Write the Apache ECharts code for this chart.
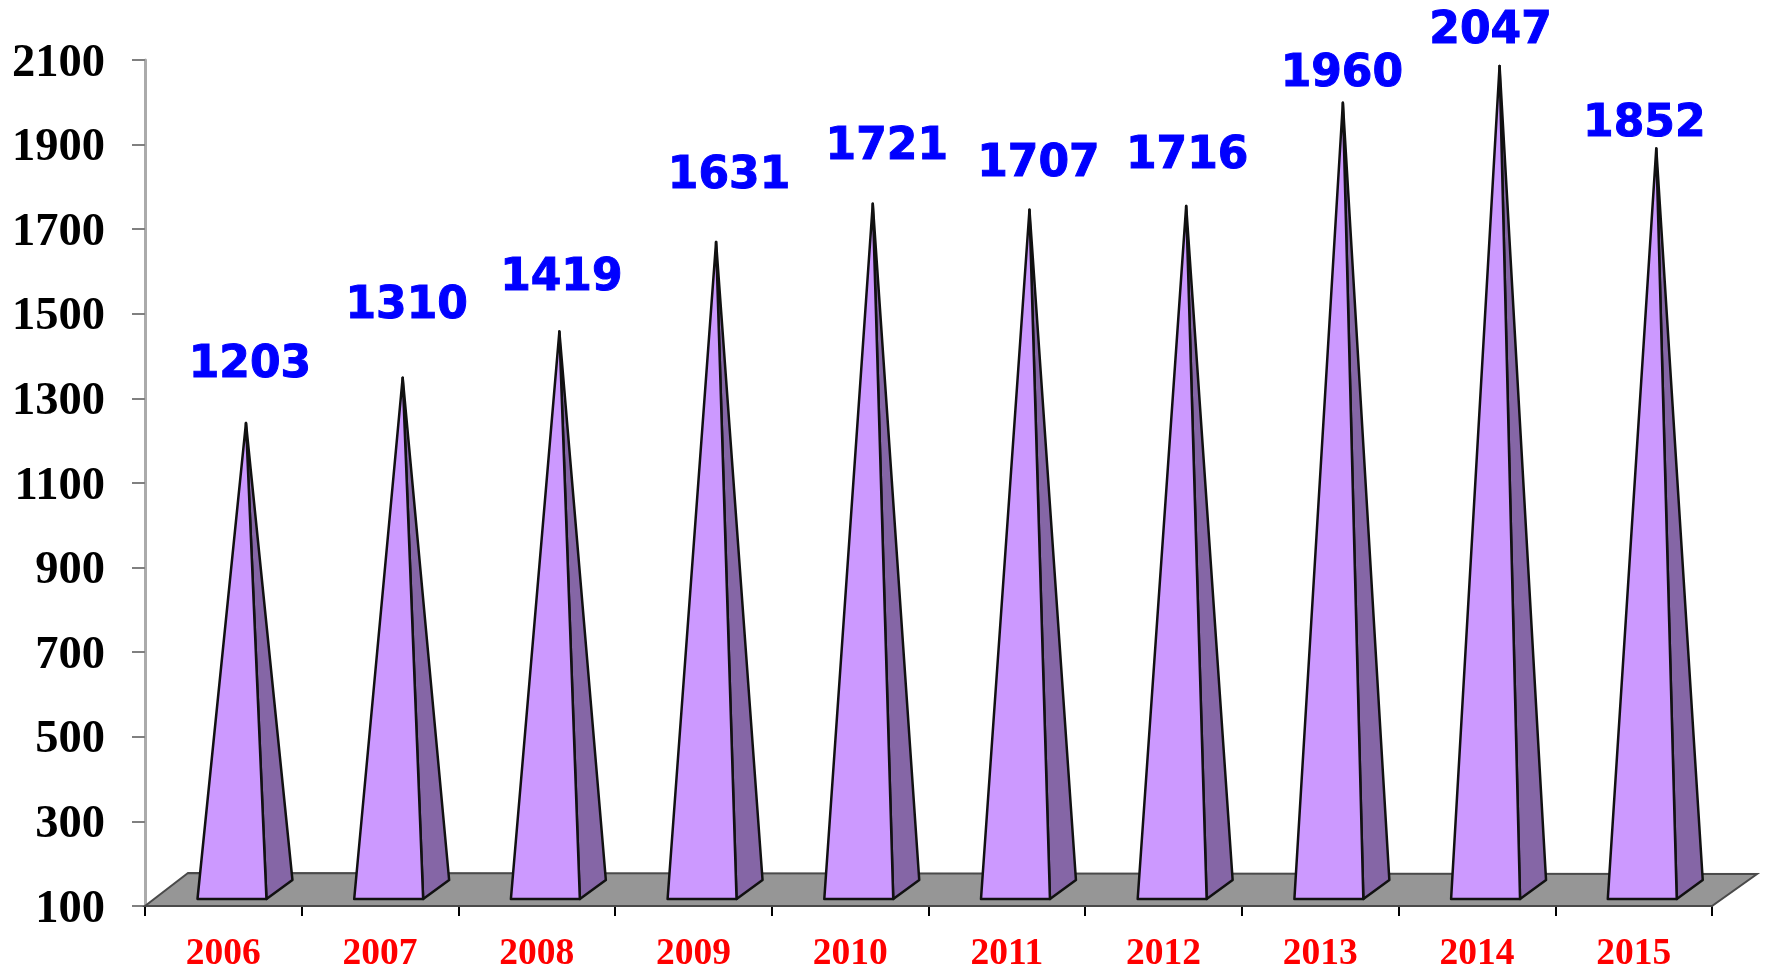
<!DOCTYPE html>
<html>
<head>
<meta charset="utf-8">
<title>2006-2015</title>
<script src="https://cdn.jsdelivr.net/npm/echarts@6/dist/echarts.min.js"></script>
<style>
  html, body { margin: 0; padding: 0; background: #fff; }
  #chart { width: 1766px; height: 971px; }
</style>
</head>
<body>
<div id="chart"></div>
<script>
// values
const years = ['2006', '2007', '2008', '2009', '2010', '2011', '2012', '2013', '2014', '2015'];
const values = [1203, 1310, 1419, 1631, 1721, 1707, 1716, 1960, 2047, 1852];
const yTicks = { min: 100, max: 2100, interval: 200 };

// the value labels were hand placed in the original, so each has its own nudge from the tip
const labelDx = [4, 4, 2, 13, 14, 9, 1, -1, -9, -12];
const labelDy = [-57, -71, -53, -65, -56, -45, -49, -28, -34, -24];

// fake 3d depth, in px
const depthX = 26;
const depthY = 19;
const floorInset = 7;

const chart = echarts.init(document.getElementById('chart'), null, { renderer: 'canvas' });

function renderFloor(params, api) {
    const g = params.coordSys;
    const bottom = g.y + g.height;
    return {
        type: 'polygon',
        shape: { points: [
            [g.x, bottom],
            [g.x + 43, bottom - 33],
            [g.x + g.width + 45, bottom - 32],
            [g.x + g.width, bottom]
        ] },
        style: { fill: '#969696', stroke: '#4a4a4a', lineWidth: 2 }
    };
}

function renderPyramid(params, api) {
    const i = api.value(0);
    const tipPoint = api.coord([i, api.value(1)]);
    const basePoint = api.coord([i, yTicks.min]);
    const band = api.size([1, 0])[0];
    const halfWidth = band * 0.22;
    const cx = basePoint[0] + band * 0.055;
    const baseY = basePoint[1] - floorInset;
    const tip = [cx + depthX / 2 + 1, tipPoint[1] - floorInset - depthY / 2];
    const frontLeft = [cx - halfWidth, baseY];
    const frontRight = [cx + halfWidth, baseY];
    const backRight = [cx + halfWidth + depthX, baseY - depthY];
    const edge = { stroke: '#111', lineWidth: 2.5, lineJoin: 'round' };
    return {
        type: 'group',
        children: [
            { type: 'polygon', shape: { points: [frontRight, backRight, tip] }, style: Object.assign({ fill: '#8566A6' }, edge) },
            { type: 'polygon', shape: { points: [frontLeft, frontRight, tip] }, style: Object.assign({ fill: '#CC99FF' }, edge) },
            {
                type: 'text',
                style: {
                    x: tip[0] + labelDx[i],
                    y: tip[1] + labelDy[i],
                    text: String(api.value(1)),
                    align: 'center',
                    verticalAlign: 'middle',
                    font: 'bold 44px "DejaVu Sans"',
                    fill: '#0000FF',
                    stroke: '#0000FF',
                    lineWidth: 1
                }
            }
        ]
    };
}

chart.setOption({
    animation: false,
    backgroundColor: '#fff',
    grid: { left: 145, top: 60, width: 1567, height: 846, containLabel: false, outerBoundsMode: 'none' },
    xAxis: {
        type: 'category',
        data: years,
        axisLine: { show: true, lineStyle: { color: '#3a3a3a', width: 2 } },
        axisTick: { show: true, length: 10, alignWithLabel: false, lineStyle: { color: '#000', width: 2 } },
        axisLabel: {
            margin: 29,
            color: '#FF0000',
            fontFamily: 'Liberation Serif',
            fontWeight: 'bold',
            fontSize: 37.5,
            interval: 0
        }
    },
    yAxis: {
        type: 'value',
        min: yTicks.min,
        max: yTicks.max,
        interval: yTicks.interval,
        splitLine: { show: false },
        axisLine: { show: true, lineStyle: { color: '#ababab', width: 3 } },
        axisTick: { show: true, length: 13, lineStyle: { color: '#808080', width: 2 } },
        axisLabel: {
            margin: 40,
            color: '#000',
            fontFamily: 'Liberation Serif',
            fontWeight: 'bold',
            fontSize: 46.5,
            // glyphs sit a bit low against the ticks in the original
            verticalAlign: 'top',
            lineHeight: 7,
            formatter: (v) => String(v)
        }
    },
    series: [
        {
            type: 'custom',
            renderItem: renderFloor,
            data: [[0, yTicks.min]],
            encode: { x: 0, y: 1 },
            silent: true,
            z: 1
        },
        {
            type: 'custom',
            renderItem: renderPyramid,
            data: years.map((y, i) => [i, values[i]]),
            encode: { x: 0, y: 1 },
            z: 3
        }
    ]
});
</script>
</body>
</html>
